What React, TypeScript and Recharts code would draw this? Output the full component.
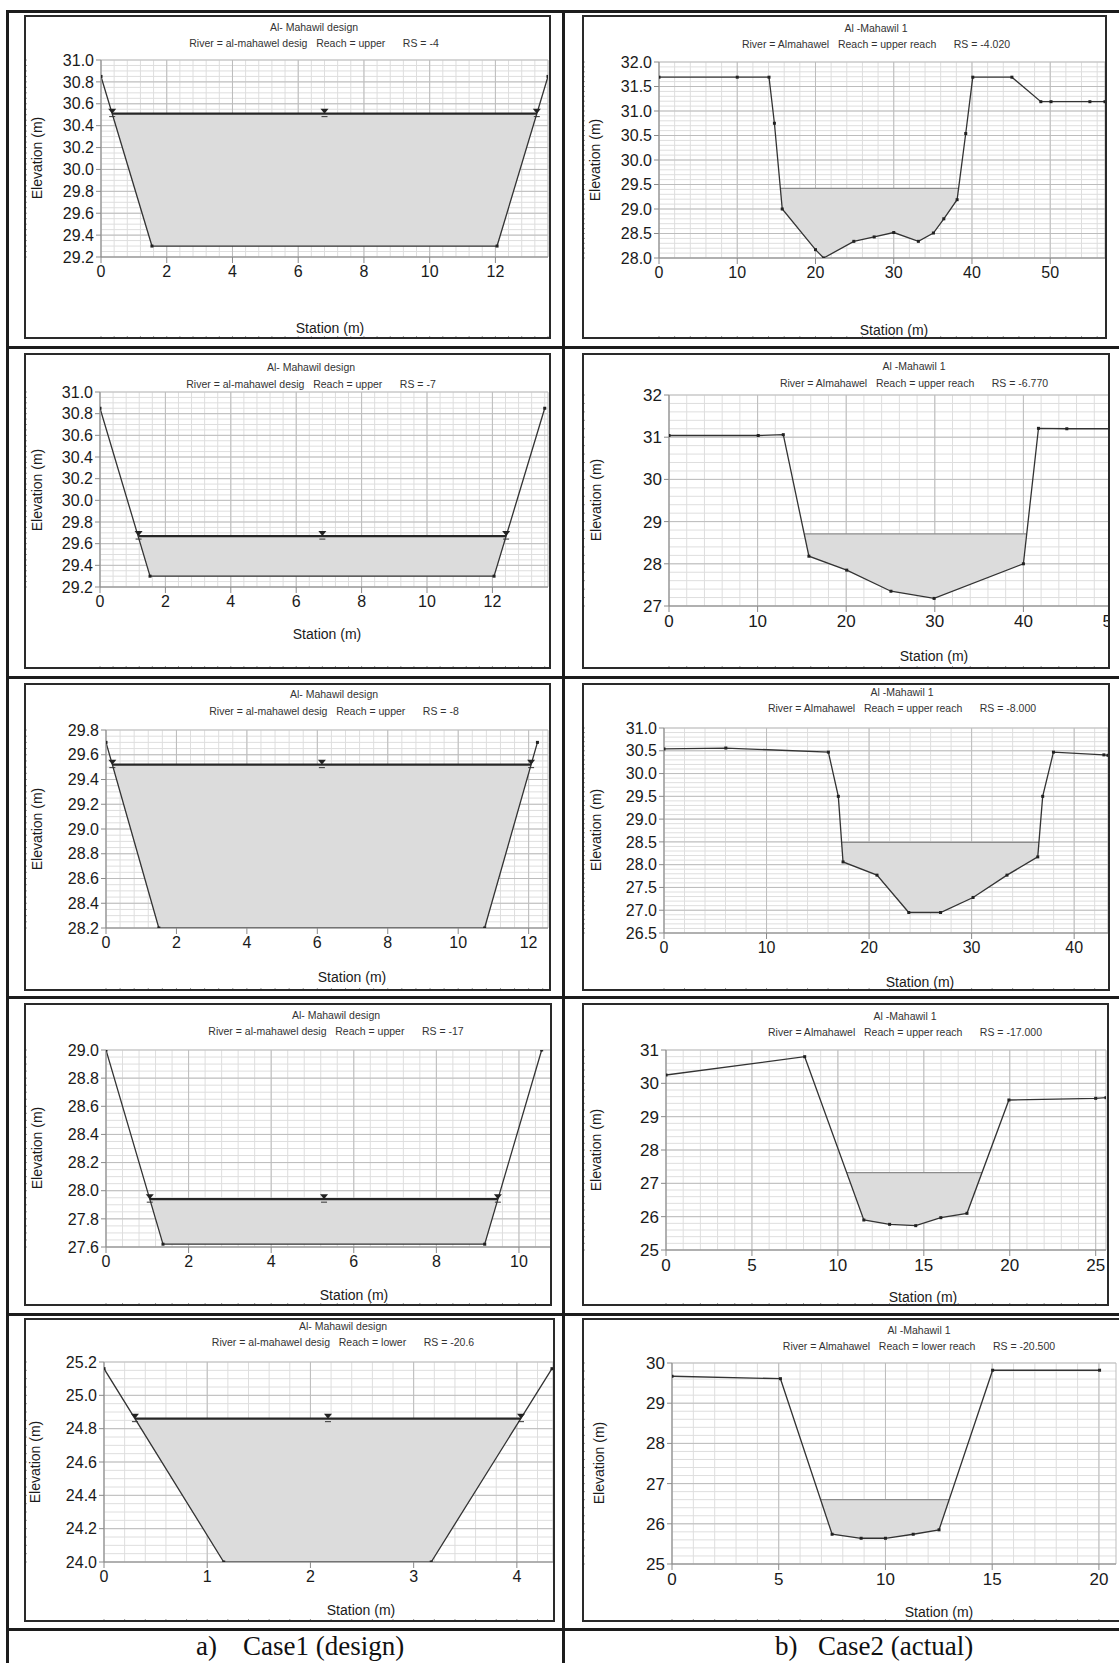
import React from "react";
import { ComposedChart, Line, Area, XAxis, YAxis, CartesianGrid } from "recharts";

type Pt = { x: number; y: number };

const FONT = '"Liberation Sans", Arial, sans-serif';

// ---- Case 1 (design) cross sections ----
const l1Ground: Pt[] = [{ x: 0, y: 30.85 }, { x: 1.55, y: 29.3 }, { x: 12.05, y: 29.3 }, { x: 13.6, y: 30.85 }];
const l1Ws: Pt[] = [{ x: 0.34, y: 30.51 }, { x: 6.8, y: 30.51 }, { x: 13.26, y: 30.51 }];
const l1XTicks = [0, 2, 4, 6, 8, 10, 12];
const l1YTicks = [29.2, 29.4, 29.6, 29.8, 30.0, 30.2, 30.4, 30.6, 30.8, 31.0];

const l2Ground: Pt[] = [{ x: 0, y: 30.85 }, { x: 1.53, y: 29.3 }, { x: 12.05, y: 29.3 }, { x: 13.6, y: 30.85 }];
const l2Ws: Pt[] = [{ x: 1.18, y: 29.67 }, { x: 6.8, y: 29.67 }, { x: 12.42, y: 29.67 }];
const l2XTicks = [0, 2, 4, 6, 8, 10, 12];
const l2YTicks = [29.2, 29.4, 29.6, 29.8, 30.0, 30.2, 30.4, 30.6, 30.8, 31.0];

const l3Ground: Pt[] = [{ x: 0, y: 29.7 }, { x: 1.5, y: 28.2 }, { x: 10.75, y: 28.2 }, { x: 12.25, y: 29.7 }];
const l3Ws: Pt[] = [{ x: 0.18, y: 29.52 }, { x: 6.13, y: 29.52 }, { x: 12.07, y: 29.52 }];
const l3XTicks = [0, 2, 4, 6, 8, 10, 12];
const l3YTicks = [28.2, 28.4, 28.6, 28.8, 29.0, 29.2, 29.4, 29.6, 29.8];

const l4Ground: Pt[] = [{ x: 0, y: 29.0 }, { x: 1.38, y: 27.62 }, { x: 9.17, y: 27.62 }, { x: 10.55, y: 29.0 }];
const l4Ws: Pt[] = [{ x: 1.06, y: 27.94 }, { x: 5.28, y: 27.94 }, { x: 9.49, y: 27.94 }];
const l4XTicks = [0, 2, 4, 6, 8, 10];
const l4YTicks = [27.6, 27.8, 28.0, 28.2, 28.4, 28.6, 28.8, 29.0];

const l5Ground: Pt[] = [{ x: 0, y: 25.16 }, { x: 1.16, y: 24.0 }, { x: 3.17, y: 24.0 }, { x: 4.34, y: 25.16 }];
const l5Ws: Pt[] = [{ x: 0.3, y: 24.86 }, { x: 2.17, y: 24.86 }, { x: 4.04, y: 24.86 }];
const l5XTicks = [0, 1, 2, 3, 4];
const l5YTicks = [24.0, 24.2, 24.4, 24.6, 24.8, 25.0, 25.2];

// ---- Case 2 (actual) cross sections ----
const r1Ground: Pt[] = [
  { x: 0, y: 31.69 }, { x: 10, y: 31.69 }, { x: 14.06, y: 31.69 }, { x: 14.75, y: 30.75 },
  { x: 15.75, y: 29.0 }, { x: 20.0, y: 28.17 }, { x: 21.05, y: 28.0 }, { x: 24.9, y: 28.34 },
  { x: 27.5, y: 28.43 }, { x: 30.0, y: 28.52 }, { x: 33.15, y: 28.34 }, { x: 35.07, y: 28.51 },
  { x: 36.4, y: 28.8 }, { x: 38.1, y: 29.19 }, { x: 39.2, y: 30.54 }, { x: 40.1, y: 31.69 },
  { x: 45.1, y: 31.69 }, { x: 48.8, y: 31.19 }, { x: 50.1, y: 31.19 }, { x: 55.07, y: 31.19 },
  { x: 57, y: 31.19 },
];
const r1Ws: Pt[] = [{ x: 15.5, y: 29.42 }, { x: 38.3, y: 29.42 }];
const r1XTicks = [0, 10, 20, 30, 40, 50];
const r1YTicks = [28.0, 28.5, 29.0, 29.5, 30.0, 30.5, 31.0, 31.5, 32.0];

const r2Ground: Pt[] = [
  { x: 0, y: 31.04 }, { x: 10.07, y: 31.04 }, { x: 12.9, y: 31.06 }, { x: 15.79, y: 28.18 },
  { x: 20.06, y: 27.85 }, { x: 25.05, y: 27.35 }, { x: 29.92, y: 27.18 }, { x: 40.0, y: 28.0 },
  { x: 41.7, y: 31.21 }, { x: 44.9, y: 31.2 }, { x: 50, y: 31.2 },
];
const r2Ws: Pt[] = [{ x: 15.3, y: 28.71 }, { x: 40.3, y: 28.71 }];
const r2XTicks = [0, 10, 20, 30, 40, 50];
const r2YTicks = [27, 28, 29, 30, 31, 32];

const r3Ground: Pt[] = [
  { x: 0, y: 30.54 }, { x: 6.03, y: 30.56 }, { x: 16.03, y: 30.47 }, { x: 17.0, y: 29.5 },
  { x: 17.46, y: 28.06 }, { x: 20.77, y: 27.77 }, { x: 23.87, y: 26.95 }, { x: 26.97, y: 26.95 },
  { x: 30.14, y: 27.28 }, { x: 33.45, y: 27.77 }, { x: 36.45, y: 28.17 }, { x: 36.93, y: 29.5 },
  { x: 37.98, y: 30.47 }, { x: 42.9, y: 30.41 }, { x: 43.3, y: 30.4 },
];
const r3Ws: Pt[] = [{ x: 17.32, y: 28.49 }, { x: 36.57, y: 28.49 }];
const r3XTicks = [0, 10, 20, 30, 40];
const r3YTicks = [26.5, 27.0, 27.5, 28.0, 28.5, 29.0, 29.5, 30.0, 30.5, 31.0];

const r4Ground: Pt[] = [
  { x: 0, y: 30.25 }, { x: 8.07, y: 30.8 }, { x: 11.51, y: 25.9 }, { x: 13.01, y: 25.77 },
  { x: 14.53, y: 25.73 }, { x: 15.99, y: 25.97 }, { x: 17.51, y: 26.1 }, { x: 19.95, y: 29.5 },
  { x: 25.0, y: 29.55 }, { x: 25.6, y: 29.57 },
];
const r4Ws: Pt[] = [{ x: 10.51, y: 27.32 }, { x: 18.39, y: 27.32 }];
const r4XTicks = [0, 5, 10, 15, 20, 25];
const r4YTicks = [25, 26, 27, 28, 29, 30, 31];

const r5Ground: Pt[] = [
  { x: 0, y: 29.67 }, { x: 5.08, y: 29.61 }, { x: 7.5, y: 25.74 }, { x: 8.86, y: 25.64 },
  { x: 10.0, y: 25.64 }, { x: 11.3, y: 25.74 }, { x: 12.51, y: 25.85 }, { x: 15.02, y: 29.82 },
  { x: 20.03, y: 29.82 },
];
const r5Ws: Pt[] = [{ x: 6.97, y: 26.6 }, { x: 12.98, y: 26.6 }];
const r5XTicks = [0, 5, 10, 15, 20];
const r5YTicks = [25, 26, 27, 28, 29, 30];

type Cfg = {
  box: number[]; // x, y, w, h (page px)
  plot: number[]; // x0, y0, x1, y1 (page px)
  xDomain: number[];
  yDomain: number[];
  xTicks: number[];
  yTicks: number[];
  yDigits: number;
  xMinor: number;
  yMinor: number;
  tickFont: number;
  title: string;
  subtitle: string;
  titleX: number;
  titleY: number[];
  stationAt: number[];
  elevAt: number[];
  ground: Pt[];
  ws: Pt[];
  design: boolean;
  noRight?: boolean;
};

const designTitle = "Al- Mahawil design";
const actualTitle = "Al -Mahawil 1";

const panels: Cfg[] = [
  {
    box: [24, 15, 527, 324], plot: [101, 60, 548, 257], xDomain: [0, 13.6], yDomain: [29.2, 31.0],
    xTicks: l1XTicks, yTicks: l1YTicks, yDigits: 1, xMinor: 0.4, yMinor: 0.05, tickFont: 16,
    title: designTitle, subtitle: "River = al-mahawel desig   Reach = upper      RS = -4",
    titleX: 314, titleY: [27, 43], stationAt: [330, 328], elevAt: [37, 158],
    ground: l1Ground, ws: l1Ws, design: true,
  },
  {
    box: [582, 15, 525, 324], plot: [659, 62, 1105, 258], xDomain: [0, 57], yDomain: [28, 32],
    xTicks: r1XTicks, yTicks: r1YTicks, yDigits: 1, xMinor: 2, yMinor: 0.1, tickFont: 16,
    title: actualTitle, subtitle: "River = Almahawel   Reach = upper reach      RS = -4.020",
    titleX: 876, titleY: [28, 44], stationAt: [894, 330], elevAt: [595, 160],
    ground: r1Ground, ws: r1Ws, design: false,
  },
  {
    box: [24, 353, 527, 316], plot: [100, 392, 548, 587], xDomain: [0, 13.7], yDomain: [29.2, 31.0],
    xTicks: l2XTicks, yTicks: l2YTicks, yDigits: 1, xMinor: 0.4, yMinor: 0.05, tickFont: 16,
    title: designTitle, subtitle: "River = al-mahawel desig   Reach = upper      RS = -7",
    titleX: 311, titleY: [367, 384], stationAt: [327, 634], elevAt: [37, 490],
    ground: l2Ground, ws: l2Ws, design: true,
  },
  {
    box: [582, 353, 528, 316], plot: [669, 395, 1112, 606], xDomain: [0, 50], yDomain: [27, 32],
    xTicks: r2XTicks, yTicks: r2YTicks, yDigits: 0, xMinor: 2, yMinor: 0.2, tickFont: 17,
    title: actualTitle, subtitle: "River = Almahawel   Reach = upper reach      RS = -6.770",
    titleX: 914, titleY: [366, 383], stationAt: [934, 656], elevAt: [596, 500],
    ground: r2Ground, ws: r2Ws, design: false,
  },
  {
    box: [24, 683, 527, 308], plot: [106, 730, 548, 928], xDomain: [0, 12.55], yDomain: [28.2, 29.8],
    xTicks: l3XTicks, yTicks: l3YTicks, yDigits: 1, xMinor: 0.4, yMinor: 0.05, tickFont: 16,
    title: designTitle, subtitle: "River = al-mahawel desig   Reach = upper      RS = -8",
    titleX: 334, titleY: [694, 711], stationAt: [352, 977], elevAt: [37, 829],
    ground: l3Ground, ws: l3Ws, design: true,
  },
  {
    box: [582, 683, 528, 308], plot: [664, 728, 1108, 933], xDomain: [0, 43.3], yDomain: [26.5, 31.0],
    xTicks: r3XTicks, yTicks: r3YTicks, yDigits: 1, xMinor: 2, yMinor: 0.1, tickFont: 16,
    title: actualTitle, subtitle: "River = Almahawel   Reach = upper reach      RS = -8.000",
    titleX: 902, titleY: [692, 708], stationAt: [920, 982], elevAt: [596, 830],
    ground: r3Ground, ws: r3Ws, design: false,
  },
  {
    box: [24, 1003, 528, 303], plot: [106, 1050, 552, 1247], xDomain: [0, 10.8], yDomain: [27.6, 29.0],
    xTicks: l4XTicks, yTicks: l4YTicks, yDigits: 1, xMinor: 0.4, yMinor: 0.05, tickFont: 16,
    title: designTitle, subtitle: "River = al-mahawel desig   Reach = upper      RS = -17",
    titleX: 336, titleY: [1015, 1031], stationAt: [354, 1295], elevAt: [37, 1148],
    ground: l4Ground, ws: l4Ws, design: true,
  },
  {
    box: [582, 1003, 527, 303], plot: [666, 1050, 1106, 1250], xDomain: [0, 25.6], yDomain: [25, 31],
    xTicks: r4XTicks, yTicks: r4YTicks, yDigits: 0, xMinor: 1, yMinor: 0.2, tickFont: 17,
    title: actualTitle, subtitle: "River = Almahawel   Reach = upper reach      RS = -17.000",
    titleX: 905, titleY: [1016, 1032], stationAt: [923, 1297], elevAt: [596, 1150],
    ground: r4Ground, ws: r4Ws, design: false,
  },
  {
    box: [24, 1318, 531, 304], plot: [104, 1362, 553, 1562], xDomain: [0, 4.35], yDomain: [24.0, 25.2],
    xTicks: l5XTicks, yTicks: l5YTicks, yDigits: 1, xMinor: 0.2, yMinor: 0.05, tickFont: 16,
    title: designTitle, subtitle: "River = al-mahawel desig   Reach = lower      RS = -20.6",
    titleX: 343, titleY: [1326, 1342], stationAt: [361, 1610], elevAt: [35, 1462],
    ground: l5Ground, ws: l5Ws, design: true,
  },
  {
    box: [582, 1318, 537, 304], plot: [672, 1363, 1116, 1564], xDomain: [0, 20.8], yDomain: [25, 30],
    xTicks: r5XTicks, yTicks: r5YTicks, yDigits: 0, xMinor: 1, yMinor: 0.2, tickFont: 17,
    title: actualTitle, subtitle: "River = Almahawel   Reach = lower reach      RS = -20.500",
    titleX: 919, titleY: [1330, 1346], stationAt: [939, 1612], elevAt: [599, 1463],
    ground: r5Ground, ws: r5Ws, design: false, noRight: true,
  },
];

// table rules (centre lines)
const rowRules = [11, 347, 677, 997, 1314, 1629];

function minorTicks(lo: number, hi: number, step: number) {
  const out: number[] = [];
  const start = Math.ceil(lo / step - 1e-6);
  for (let i = start; i * step <= hi + 1e-6; i++) out.push(+(i * step).toFixed(4));
  return out;
}

// water band from ground points inside the wetted edges
function waterBand(ground: Pt[], ws: Pt[]) {
  const lo = ws[0].x;
  const hi = ws[ws.length - 1].x;
  const level = ws[0].y;
  const inner = ground.filter((p) => p.x > lo && p.x < hi);
  return [
    { x: lo, band: [level, level] },
    ...inner.map((p) => ({ x: p.x, band: [p.y, level] })),
    { x: hi, band: [level, level] },
  ];
}

const noLabel = () => <g />;

const groundDot = (props: any) => {
  const { cx, cy, index } = props;
  if (cx == null || cy == null) return <g key={`g${index}`} />;
  return <rect key={`g${index}`} x={cx - 1.5} y={cy - 1.5} width={3} height={3} fill="#222" />;
};

const wsMark = (props: any) => {
  const { cx, cy, index } = props;
  if (cx == null || cy == null) return <g key={`w${index}`} />;
  return (
    <g key={`w${index}`}>
      <path d={`M${cx - 4},${cy - 5} L${cx + 4},${cy - 5} L${cx},${cy} Z`} fill="#222" />
      <line x1={cx - 3} x2={cx + 3} y1={cy + 3} y2={cy + 3} stroke="#333" strokeWidth={1} />
    </g>
  );
};

function Section({ p }: { p: Cfg }) {
  const [bx, by, bw, bh] = p.box;
  const [px0, py0, px1, py1] = p.plot;
  const b = 2;
  const ox = bx + b;
  const oy = by + b;
  const width = Math.max(px1 - ox + 1, bw - 2 * b);
  const height = bh - 2 * b;
  const yAxisW = px0 - ox - 1;
  const xAxisH = height - (py1 - oy) - 1;
  const margin = { left: 0, top: py0 - oy, right: width - (px1 - ox), bottom: 0 };
  const water = waterBand(p.ground, p.ws);
  const minorX = minorTicks(p.xDomain[0], p.xDomain[1], p.xMinor);
  const minorY = minorTicks(p.yDomain[0], p.yDomain[1], p.yMinor);
  const tickStyle = { fill: "#1a1a1a", fontSize: p.tickFont, fontFamily: FONT };
  const small: React.CSSProperties = {
    position: "absolute", transform: "translate(-50%, -50%)", whiteSpace: "pre",
    fontSize: 10.5, color: "#333", fontFamily: FONT, lineHeight: 1,
  };
  const big: React.CSSProperties = {
    position: "absolute", whiteSpace: "nowrap", fontSize: 14, color: "#1a1a1a", fontFamily: FONT, lineHeight: 1,
  };
  return (
    <div
      style={{
        position: "absolute", left: bx, top: by, width: bw, height: bh, boxSizing: "border-box",
        border: "2px solid #2a2a2a", borderRight: p.noRight ? "none" : "2px solid #2a2a2a",
        overflow: "hidden", background: "#fff",
      }}
    >
      <ComposedChart width={width} height={height} margin={margin} style={{ position: "absolute", left: 0, top: 0 }}>
        <XAxis xAxisId="minor" dataKey="x" type="number" domain={p.xDomain} ticks={minorX}
          interval={0} tick={noLabel} tickSize={3} axisLine={false} height={1} stroke="#999" allowDataOverflow />
        <YAxis yAxisId="minor" type="number" domain={p.yDomain} ticks={minorY}
          interval={0} tick={noLabel} tickSize={3} axisLine={false} width={1} stroke="#999" allowDataOverflow />
        <XAxis dataKey="x" type="number" domain={p.xDomain} ticks={p.xTicks} interval={0} height={xAxisH}
          tickSize={6} tickMargin={3} stroke="#8a8a8a" tick={tickStyle} allowDataOverflow />
        <YAxis type="number" domain={p.yDomain} ticks={p.yTicks} interval={0} width={yAxisW}
          tickSize={5} tickMargin={2} stroke="#8a8a8a" tick={tickStyle}
          tickFormatter={(v: number) => v.toFixed(p.yDigits)} allowDataOverflow />
        <CartesianGrid verticalValues={minorX} horizontalValues={minorY} stroke="#dedede" />
        <CartesianGrid stroke="#bdbdbd" />
        <Line xAxisId="minor" yAxisId="minor" data={p.ground} dataKey="y" stroke="none" dot={false}
          isAnimationActive={false} />
        <Area data={water} dataKey="band" type="linear" fill="#dcdcdc" fillOpacity={1} stroke="none"
          isAnimationActive={false} />
        {!p.design && (
          <Line data={p.ws} dataKey="y" type="linear" stroke="#8c8c8c" strokeWidth={1.2} dot={false}
            isAnimationActive={false} />
        )}
        <Line data={p.ground} dataKey="y" type="linear" stroke="#333" strokeWidth={1.3} dot={groundDot}
          isAnimationActive={false} />
        {p.design && (
          <Line data={p.ws} dataKey="y" type="linear" stroke="#262626" strokeWidth={2.2} dot={wsMark}
            isAnimationActive={false} />
        )}
      </ComposedChart>
      <div style={{ ...small, left: p.titleX - ox, top: p.titleY[0] - oy }}>{p.title}</div>
      <div style={{ ...small, left: p.titleX - ox, top: p.titleY[1] - oy }}>{p.subtitle}</div>
      <div style={{ ...big, left: p.stationAt[0] - ox, top: p.stationAt[1] - oy, transform: "translate(-50%, -50%)" }}>
        Station (m)
      </div>
      <div
        style={{
          ...big, left: p.elevAt[0] - ox, top: p.elevAt[1] - oy,
          transform: "translate(-50%, -50%) rotate(-90deg)",
        }}
      >
        Elevation (m)
      </div>
    </div>
  );
}

export default function App() {
  const rule = "#1c1c1c";
  const cap: React.CSSProperties = {
    position: "absolute", top: 1631, fontFamily: '"Liberation Serif", "Times New Roman", serif',
    fontSize: 27, lineHeight: "30px", color: "#111", whiteSpace: "nowrap",
  };
  return (
    <div style={{ position: "absolute", left: 0, top: 0, width: 1119, height: 1663, background: "#fff", overflow: "hidden" }}>
      {rowRules.map((y) => (
        <div key={y} style={{ position: "absolute", left: 6, width: 1113, top: y - 1, height: 3, background: rule }} />
      ))}
      <div style={{ position: "absolute", left: 6, top: 10, width: 3, height: 1653, background: rule }} />
      <div style={{ position: "absolute", left: 562, top: 10, width: 3, height: 1653, background: rule }} />
      {panels.map((p, i) => (
        <Section key={i} p={p} />
      ))}
      <div style={{ ...cap, left: 196 }}>a)</div>
      <div style={{ ...cap, left: 243 }}>Case1 (design)</div>
      <div style={{ ...cap, left: 775 }}>b)</div>
      <div style={{ ...cap, left: 818 }}>Case2 (actual)</div>
    </div>
  );
}
